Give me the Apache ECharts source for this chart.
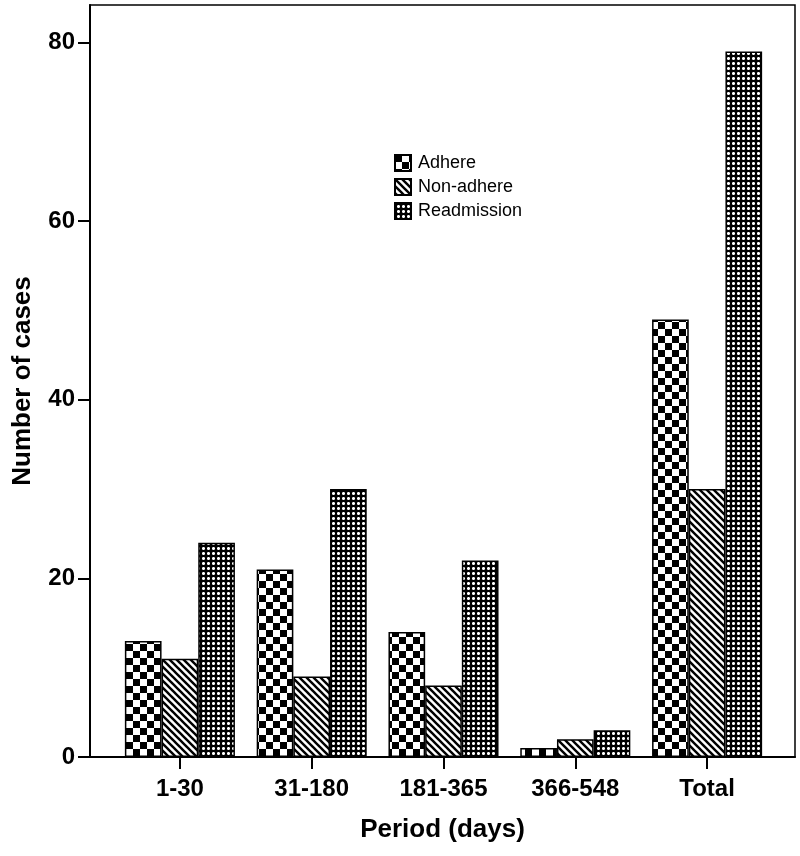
<!DOCTYPE html>
<html>
<head>
<meta charset="utf-8">
<script src="https://cdn.jsdelivr.net/npm/echarts@6/dist/echarts.min.js"></script>
<style>
  html, body { margin: 0; padding: 0; background: #fff; }
  #chart { width: 800px; height: 856px; }
</style>
</head>
<body>
<div id="chart"></div>
<script>
// data
const categories = ['1-30', '31-180', '181-365', '366-548', 'Total']
const adhere = [13, 21, 14, 1, 49]
const nonAdhere = [11, 9, 8, 2, 30]
const readmission = [24, 30, 22, 3, 79]
const yTicks = [0, 20, 40, 60, 80]

const FONT = '"Liberation Sans", Arial, sans-serif'

// little canvases used as fill patterns (SPSS style hatching)
function makePattern (size, draw) {
  const c = document.createElement('canvas')
  c.width = size
  c.height = size
  const ctx = c.getContext('2d')
  ctx.fillStyle = '#fff'
  ctx.fillRect(0, 0, size, size)
  draw(ctx, size)
  return { image: c, repeat: 'repeat' }
}

const checkerFill = makePattern(14, (ctx) => {
  ctx.fillStyle = '#000'
  ctx.fillRect(0, 0, 7, 7)
  ctx.fillRect(7, 7, 7, 7)
})

const diagFill = makePattern(7, (ctx, s) => {
  ctx.strokeStyle = '#000'
  ctx.lineWidth = 2.4
  for (let c = -s; c <= s; c += s) {
    ctx.beginPath()
    ctx.moveTo(-1, c - 1)
    ctx.lineTo(s + 1, s + c + 1)
    ctx.stroke()
  }
})

const gridFill = makePattern(5, (ctx) => {
  ctx.fillStyle = '#000'
  ctx.fillRect(0, 0, 5, 2)
  ctx.fillRect(0, 0, 2, 5)
  ctx.fillStyle = '#666'
  ctx.fillRect(2, 2, 0.8, 0.8)
  ctx.fillRect(4.2, 2, 0.8, 0.8)
  ctx.fillRect(2, 4.2, 0.8, 0.8)
  ctx.fillRect(4.2, 4.2, 0.8, 0.8)
})

const chart = echarts.init(document.getElementById('chart'), null, { renderer: 'canvas' })

const barStyle = (fill) => ({
  color: fill,
  borderColor: '#000',
  borderWidth: 1.5
})

const option = {
  backgroundColor: '#fff',
  animation: false,
  textStyle: { fontFamily: FONT },
  grid: [
    // outer frame with the y axis
    { left: 90, right: 5, top: 5, bottom: 99, show: true, borderColor: '#000', borderWidth: 1.5 },
    // inner area where the bars sit
    { left: 114, right: 27, top: 5, bottom: 99 }
  ],
  legend: {
    orient: 'vertical',
    left: 394,
    top: 154,
    padding: 0,
    itemWidth: 16,
    itemHeight: 16,
    itemGap: 6,
    icon: 'rect',
    textStyle: { color: '#000', fontSize: 18, fontFamily: FONT, padding: [0, 0, 0, 2] },
    data: ['Adhere', 'Non-adhere', 'Readmission']
  },
  xAxis: [
    {
      gridIndex: 0,
      type: 'value',
      min: 0,
      max: 1,
      axisLine: { show: true, lineStyle: { color: '#000', width: 2 } },
      axisTick: { show: false },
      axisLabel: { show: false },
      splitLine: { show: false },
      name: 'Period (days)',
      nameLocation: 'middle',
      nameGap: 60,
      nameTextStyle: { color: '#000', fontSize: 26, fontWeight: 'bold', fontFamily: FONT }
    },
    {
      gridIndex: 1,
      type: 'category',
      data: categories,
      axisLine: { show: false },
      axisTick: { show: true, alignWithLabel: true, length: 12, lineStyle: { color: '#000', width: 2 } },
      axisLabel: { color: '#000', fontSize: 24, fontWeight: 'bold', fontFamily: FONT, margin: 20 },
      splitLine: { show: false }
    }
  ],
  yAxis: [
    {
      gridIndex: 0,
      type: 'value',
      min: 0,
      max: 84.2,
      interval: 20,
      axisLine: { show: true, lineStyle: { color: '#000', width: 2 } },
      axisTick: { show: true, length: 12, customValues: yTicks, lineStyle: { color: '#000', width: 2 } },
      axisLabel: { color: '#000', fontSize: 24, fontWeight: 'bold', fontFamily: FONT, margin: 15, customValues: yTicks },
      splitLine: { show: false },
      name: 'Number of cases',
      nameLocation: 'middle',
      nameGap: 54,
      nameTextStyle: { color: '#000', fontSize: 26, fontWeight: 'bold', fontFamily: FONT }
    },
    {
      gridIndex: 1,
      type: 'value',
      min: 0,
      max: 84.2,
      show: false
    }
  ],
  series: [
    {
      name: 'Adhere',
      type: 'bar',
      xAxisIndex: 1,
      yAxisIndex: 1,
      data: adhere,
      barGap: '0%',
      barCategoryGap: '16.5%',
      itemStyle: barStyle(checkerFill)
    },
    {
      name: 'Non-adhere',
      type: 'bar',
      xAxisIndex: 1,
      yAxisIndex: 1,
      data: nonAdhere,
      barGap: '0%',
      barCategoryGap: '16.5%',
      itemStyle: barStyle(diagFill)
    },
    {
      name: 'Readmission',
      type: 'bar',
      xAxisIndex: 1,
      yAxisIndex: 1,
      data: readmission,
      barGap: '0%',
      barCategoryGap: '16.5%',
      itemStyle: barStyle(gridFill)
    }
  ]
}

chart.setOption(option)
</script>
</body>
</html>
